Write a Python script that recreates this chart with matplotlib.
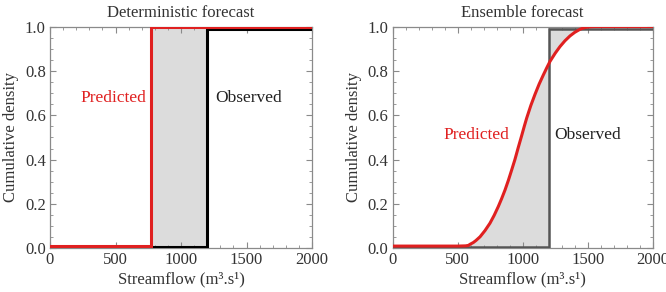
import matplotlib
matplotlib.use("Agg")
import matplotlib.pyplot as plt
import numpy as np
from matplotlib.ticker import MultipleLocator

plt.rcParams['font.family'] = ['Liberation Serif', 'DejaVu Serif']

# Data
observed_value = 1200
det_predicted_value = 770
ens_flow = [0, 300, 500, 560, 582, 595, 620, 640, 672, 710, 748, 780, 812, 838,
            864, 890, 915, 940, 966, 992, 1012, 1031, 1063, 1095, 1126, 1158,
            1185, 1210, 1250, 1287, 1325, 1364, 1400, 1441, 1480, 1520, 1560, 2000]
ens_cdf = [0.01, 0.01, 0.01, 0.011, 0.013, 0.018, 0.026, 0.035, 0.052, 0.08,
           0.113, 0.148, 0.188, 0.224, 0.263, 0.307, 0.353, 0.40, 0.455, 0.508,
           0.550, 0.588, 0.645, 0.695, 0.740, 0.781, 0.814, 0.843, 0.880, 0.910,
           0.936, 0.958, 0.974, 0.988, 0.996, 0.999, 1.0, 1.0]
xticks = [0, 500, 1000, 1500, 2000]
yticks = [0.0, 0.2, 0.4, 0.6, 0.8, 1.0]

RED = '#e02020'
FILL = '#dcdcdc'
SPINE = '#8a8a8a'

fig = plt.figure(figsize=(6.66, 2.92), dpi=100)
W, H = 666, 292
ax1 = fig.add_axes([50 / W, 1 - 248.3 / H, 262 / W, 221.7 / H])
ax2 = fig.add_axes([392.7 / W, 1 - 248.3 / H, 260 / W, 221.7 / H])

def style(ax, title):
    ax.set_xlim(0, 2000)
    ax.set_ylim(0, 1)
    ax.set_xticks(xticks)
    ax.set_yticks(yticks)
    ax.set_yticklabels([f"{v:.1f}" for v in yticks])
    ax.xaxis.set_minor_locator(MultipleLocator(100))
    ax.yaxis.set_minor_locator(MultipleLocator(0.05))
    ax.tick_params(which='both', direction='in', top=True, right=True,
                   color=SPINE, labelsize=12, labelcolor='#333333')
    ax.tick_params(which='major', length=4, width=0.8, pad=3)
    ax.tick_params(which='minor', length=2, width=0.6)
    for s in ax.spines.values():
        s.set_color(SPINE)
        s.set_linewidth(0.9)
    ax.set_title(title, fontsize=12, color='#333333', pad=7)
    ax.set_xlabel("Streamflow (m³.s¹)", fontsize=12, color='#333333', labelpad=2)
    ax.set_ylabel("Cumulative density", fontsize=12, color='#333333', labelpad=4)

# Left: deterministic
ax1.axvspan(det_predicted_value, observed_value, color=FILL, zorder=1)
ax1.plot([0, observed_value, observed_value, 2000], [0.005, 0.005, 0.99, 0.99],
         color='black', lw=2.2, zorder=3, solid_joinstyle='miter')
ax1.plot([0, det_predicted_value, det_predicted_value, 2000], [0.012, 0.012, 1.0, 1.0],
         color=RED, lw=2.2, zorder=4, solid_joinstyle='miter')
ax1.text(481, 0.68, "Predicted", color=RED, fontsize=12.5, ha='center', va='center')
ax1.text(1519, 0.68, "Observed", color='#222222', fontsize=12.5, ha='center', va='center')
style(ax1, "Deterministic forecast")

# Right: ensemble
fx = np.array(ens_flow, dtype=float)
fy = np.array(ens_cdf, dtype=float)
below = fx < observed_value
above = fx > observed_value
y_at_obs = np.interp(observed_value, fx, fy)
fx2 = np.concatenate([fx[below], [observed_value, observed_value], fx[above]])
fy2 = np.concatenate([fy[below], [y_at_obs, y_at_obs], fy[above]])
st2 = np.concatenate([np.zeros(below.sum()), [0.0, 1.0], np.ones(above.sum())])
ax2.fill_between(fx2, fy2, st2, color=FILL, zorder=1, lw=0)
ax2.plot([0, observed_value, observed_value, 2000], [0.005, 0.005, 0.99, 0.99],
         color='#555555', lw=1.8, zorder=3, solid_joinstyle='miter')
ax2.plot(fx, fy, color=RED, lw=2.2, zorder=4, solid_joinstyle='round')
ax2.text(640, 0.51, "Predicted", color=RED, fontsize=12.5, ha='center', va='center')
ax2.text(1502, 0.51, "Observed", color='#222222', fontsize=12.5, ha='center', va='center')
style(ax2, "Ensemble forecast")

fig.savefig("out.png", dpi=100)
